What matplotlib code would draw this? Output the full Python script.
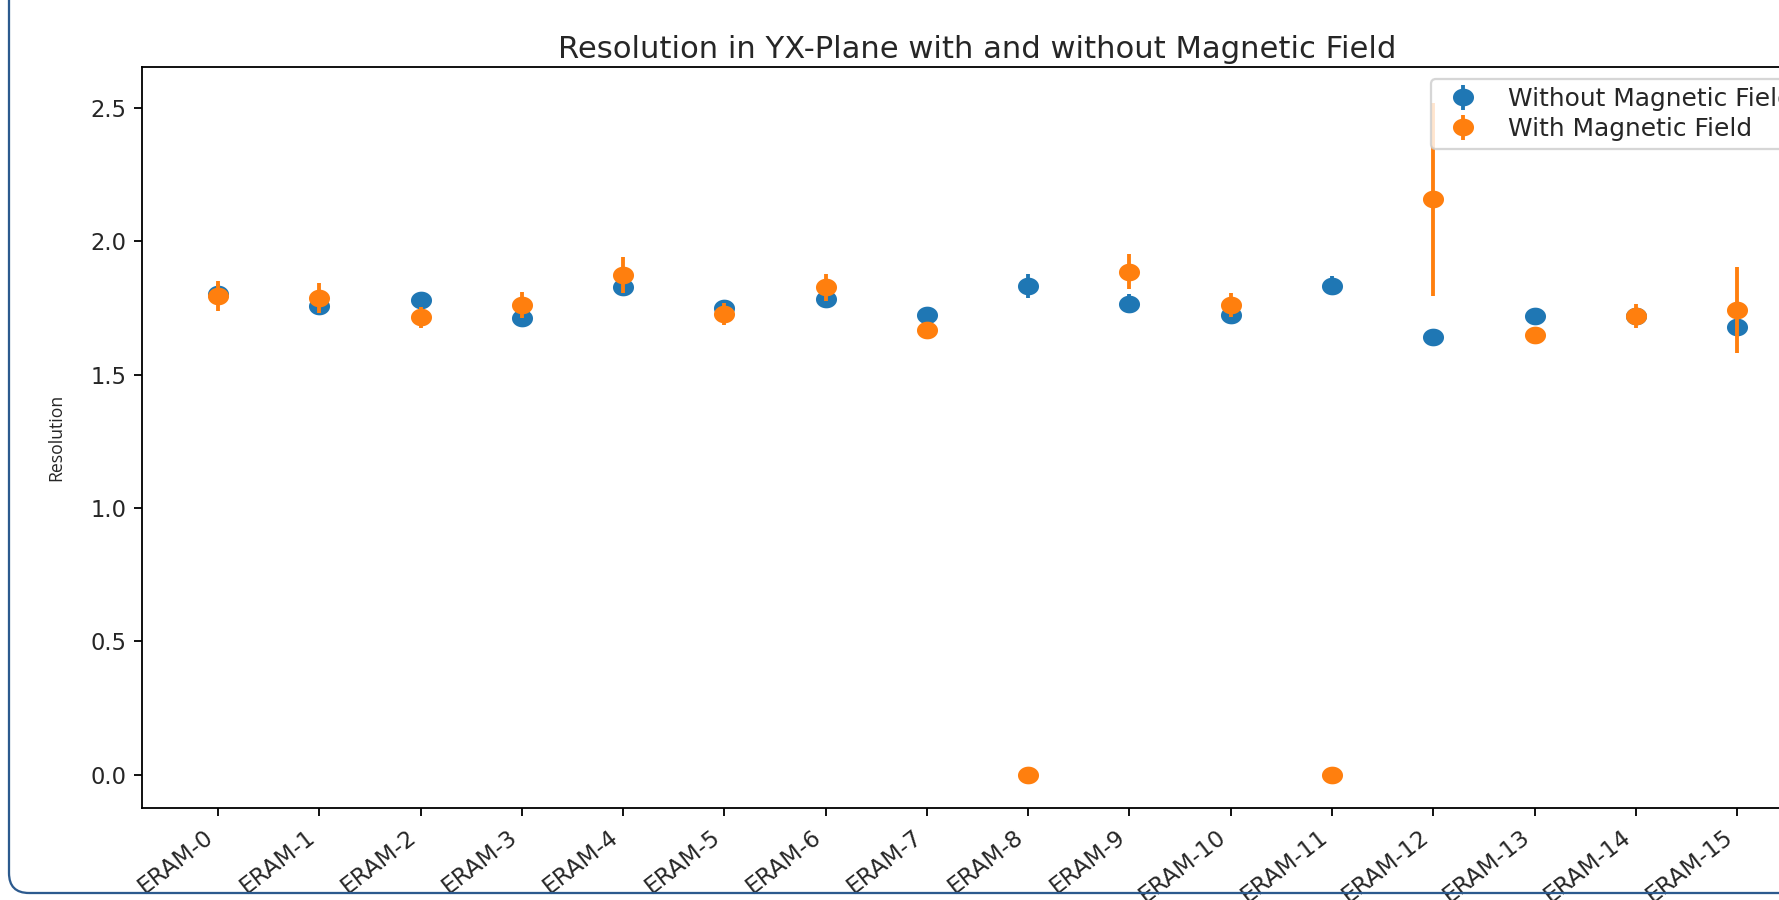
import matplotlib
matplotlib.use("Agg")
import numpy as np
import matplotlib.pyplot as plt
from matplotlib.patches import FancyBboxPatch
from matplotlib.path import Path

labels = ["ERAM-0", "ERAM-1", "ERAM-2", "ERAM-3", "ERAM-4", "ERAM-5", "ERAM-6", "ERAM-7",
          "ERAM-8", "ERAM-9", "ERAM-10", "ERAM-11", "ERAM-12", "ERAM-13", "ERAM-14", "ERAM-15"]

without_field = [1.800, 1.757, 1.779, 1.710, 1.826, 1.748, 1.781, 1.723,
                 1.833, 1.766, 1.723, 1.833, 1.642, 1.720, 1.718, 1.679]
without_err = [0.040, 0.020, 0.030, 0.015, 0.030, 0.030, 0.020, 0.030,
               0.045, 0.035, 0.020, 0.037, 0.020, 0.030, 0.030, 0.020]

with_field = [1.795, 1.785, 1.714, 1.760, 1.873, 1.727, 1.826, 1.667,
              0.000, 1.885, 1.760, 0.000, 2.157, 1.648, 1.720, 1.742]
with_err = [0.057, 0.056, 0.040, 0.048, 0.068, 0.042, 0.052, 0.030,
            0.000, 0.065, 0.045, 0.000, 0.362, 0.025, 0.045, 0.160]

# slightly wide circular marker (the reference screenshot is stretched horizontally)
t = np.linspace(0, 2 * np.pi, 64)
ellipse = Path(np.column_stack([1.22 * np.cos(t), np.sin(t)]), closed=True)

W, H, DPI = 1780, 900, 163
fig = plt.figure(figsize=(W / DPI, H / DPI), dpi=DPI)
ax = fig.add_axes([142 / W, 92 / H, 1671 / W, 741 / H])

x = list(range(len(labels)))
ax.errorbar(x, without_field, yerr=without_err, fmt="none", elinewidth=1.7,
            ecolor="#1f77b4")
ax.plot(x, without_field, linestyle="none", marker=ellipse, markersize=8.3,
        color="#1f77b4")
ax.errorbar(x, with_field, yerr=with_err, fmt="none", elinewidth=1.7,
            ecolor="#ff7f0e")
ax.plot(x, with_field, linestyle="none", marker=ellipse, markersize=8.3,
        color="#ff7f0e")

# legend handles drawn as errorbar-style entries
h1 = ax.errorbar([], [], yerr=[], marker=ellipse, markersize=8.3, linestyle="none",
                 color="#1f77b4", elinewidth=1.7, label="Without Magnetic Field")
h2 = ax.errorbar([], [], yerr=[], marker=ellipse, markersize=8.3, linestyle="none",
                 color="#ff7f0e", elinewidth=1.7, label="With Magnetic Field")

ax.set_xticks(x)
ax.set_xticklabels(labels, rotation=38, ha="right", fontsize=10.3, color="#262626")
ax.tick_params(axis="x", pad=4)
ax.tick_params(axis="y", labelcolor="#262626")
ax.set_xlim(-0.75, len(labels) - 0.25)
ax.set_ylim(-0.124, 2.652)
ax.set_yticks([0.0, 0.5, 1.0, 1.5, 2.0, 2.5])

ax.set_title("Resolution in YX-Plane with and without Magnetic Field",
             fontsize=13.5, color="#262626", pad=4)
ax.set_ylabel("Resolution", fontsize=7.8, color="#262626", family=["Open Sans", "DejaVu Sans"])
ax.yaxis.set_label_coords(-0.046, 0.5)
ax.legend(handles=[h1, h2], loc="upper right", fontsize=11, labelspacing=0.25,
          borderpad=0.3, labelcolor="#262626")

border = FancyBboxPatch((9, 7), 3000, 2000,
                        boxstyle="round,pad=0,rounding_size=20",
                        transform=None, fill=False, edgecolor="#2c5a8e", linewidth=1.0)
fig.add_artist(border)

fig.savefig("out.png", dpi=DPI)
